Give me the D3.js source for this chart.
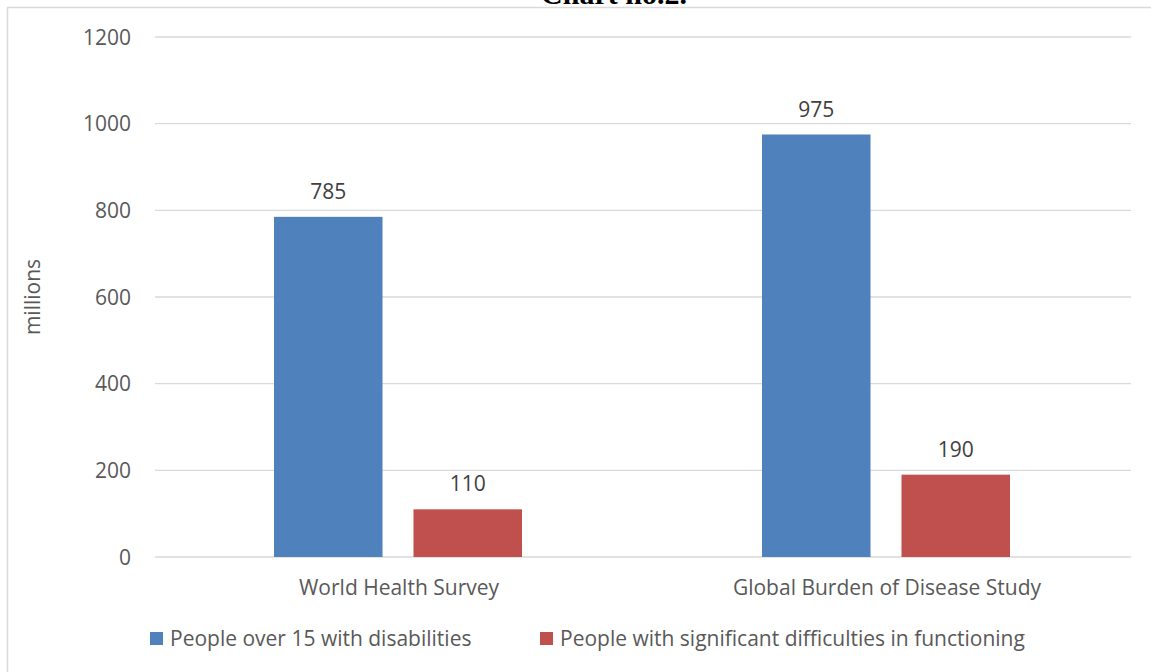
<!DOCTYPE html>
<html><head><meta charset="utf-8">
<script src="https://cdn.jsdelivr.net/npm/d3@7"></script>
<style>body{margin:0;background:#fff}svg{display:block}</style>
</head><body>
<svg id="c" width="1151" height="672"></svg>
<script>
const categories = ["World Health Survey", "Global Burden of Disease Study"];
const seriesNames = ["People over 15 with disabilities", "People with significant difficulties in functioning"];
const seriesValues = [[785, 975], [110, 190]];
const yTicks = [0, 200, 400, 600, 800, 1000, 1200];
const colors = ["#4f81bd", "#c0504d"];
const title = "Chart no.2.";
const yLabel = "millions";

const svg = d3.select("#c");
const font = "'Open Sans', sans-serif";
const fs = 21;
const pL = 155, pR = 1131, pT = 37, pB = 557;

svg.append("rect").attr("x", 7.5).attr("y", 7.5).attr("width", 1160).attr("height", 700)
  .attr("fill", "none").attr("stroke", "#d9d9d9").attr("stroke-width", 1.5);

svg.append("text").attr("x", 614).attr("y", 4).attr("text-anchor", "middle")
  .attr("font-family", "'Liberation Serif', serif").attr("font-weight", "bold").attr("font-size", 30)
  .attr("fill", "#000").text(title);

const y = d3.scaleLinear().domain([0, 1200]).range([pB, pT]);
const x0 = d3.scaleBand().domain(categories).range([pL, pR]).padding(0);
const x1 = d3.scaleBand().domain(d3.range(seriesNames.length)).range([119, 367]).paddingInner(0.222).paddingOuter(0);

const g = svg.append("g");
g.selectAll("line.grid").data(yTicks).join("line")
  .attr("x1", pL).attr("x2", pR).attr("y1", d => y(d)).attr("y2", d => y(d))
  .attr("stroke", "#d9d9d9").attr("stroke-width", 1.3);

g.selectAll("text.tick").data(yTicks).join("text")
  .attr("x", 131).attr("y", d => y(d)).attr("dy", "0.36em").attr("text-anchor", "end")
  .attr("font-family", font).attr("font-size", fs).attr("fill", "#595959").text(d => d);

svg.append("text").attr("transform", `translate(40,${(pT + pB) / 2}) rotate(-90)`)
  .attr("text-anchor", "middle").attr("font-family", font).attr("font-size", fs)
  .attr("fill", "#595959").text(yLabel);

seriesNames.forEach((s, si) => {
  categories.forEach((c, ci) => {
    const v = seriesValues[si][ci];
    const bx = x0(c) + x1(si);
    g.append("rect").attr("x", bx).attr("y", y(v)).attr("width", x1.bandwidth())
      .attr("height", y(0) - y(v)).attr("fill", colors[si]);
    g.append("text").attr("x", bx + x1.bandwidth() / 2).attr("y", y(v) - 18)
      .attr("text-anchor", "middle").attr("font-family", font).attr("font-size", fs)
      .attr("fill", "#404040").text(v);
  });
});

categories.forEach(c => {
  g.append("text").attr("x", x0(c) + x0.bandwidth() / 2).attr("y", 595).attr("text-anchor", "middle")
    .attr("font-family", font).attr("font-size", fs).attr("fill", "#595959").text(c);
});

const legX = [150, 540];
seriesNames.forEach((s, i) => {
  svg.append("rect").attr("x", legX[i]).attr("y", 632).attr("width", 13).attr("height", 13).attr("fill", colors[i]);
  svg.append("text").attr("x", legX[i] + 20).attr("y", 646).attr("font-family", font).attr("font-size", fs)
    .attr("fill", "#595959").text(s);
});
</script>
</body></html>
